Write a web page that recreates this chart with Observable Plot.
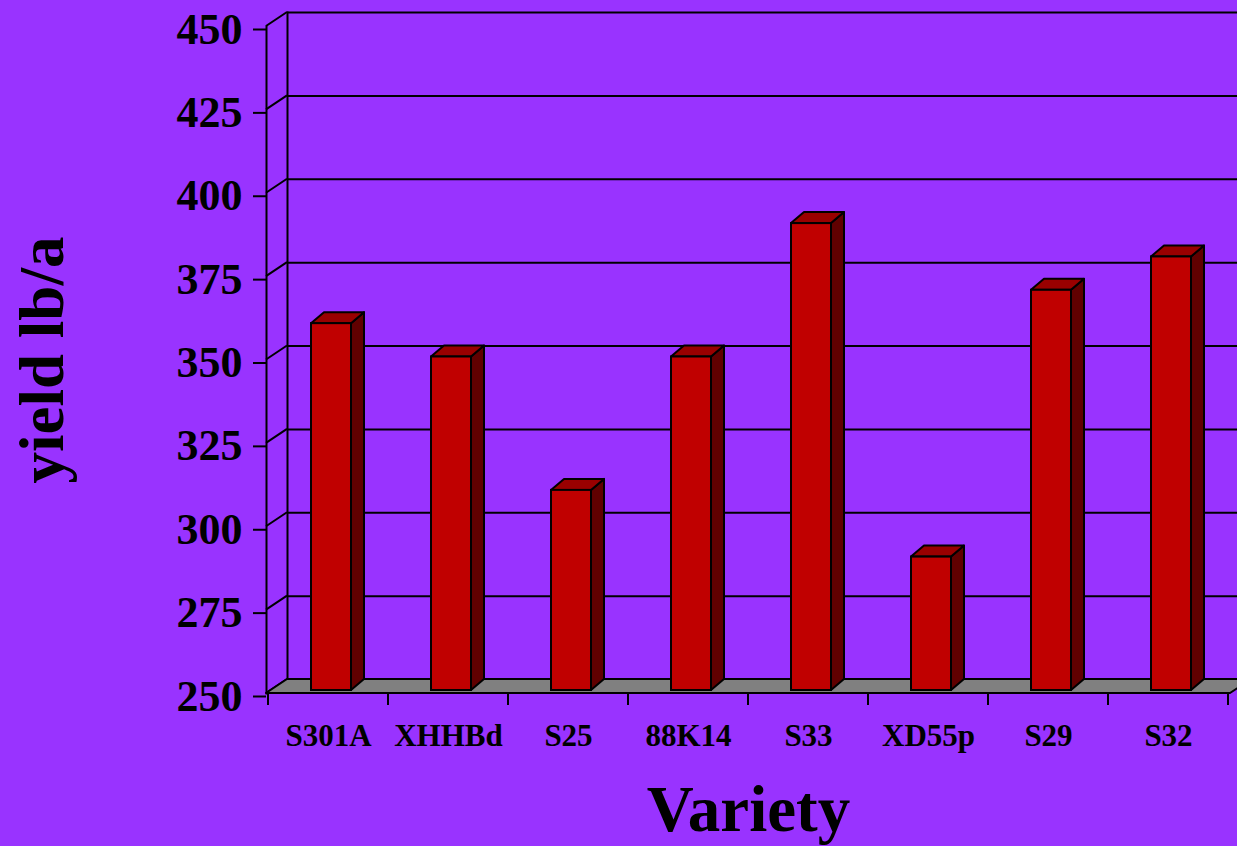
<!DOCTYPE html>
<html><head><meta charset="utf-8">
<script src="https://cdn.jsdelivr.net/npm/d3@7"></script>
<script src="https://cdn.jsdelivr.net/npm/@observablehq/plot@0.6"></script>
<style>
html,body{margin:0;padding:0;background:#9933FF;overflow:hidden;}
#chart svg{display:block;}
</style></head><body><div id="chart"></div>
<script>
// ---- data ----
const categories = ["S301A", "XHHBd", "S25", "88K14", "S33", "XD55p", "S29", "S32"];
const yields = [360, 350, 310, 350, 390, 290, 370, 380];
const yTicks = [250, 275, 300, 325, 350, 375, 400, 425, 450];
const gridValues = [250, 275, 300, 325, 350, 375, 400, 425, 450];
const yTitle = "yield lb/a";
const xTitle = "Variety";

const data = categories.map((variety, i) => ({variety, yield: yields[i]}));

// ---- style ----
const FONT = "'Liberation Serif', 'Times New Roman', serif";
const WALL_DX = 21, WALL_DY = -14;   // back-wall depth offset
const BAR_DX = 13, BAR_DY = -11;     // bar depth offset
const BAR_FRONT_DX = 3, BAR_FRONT_DY = -3;
const LINE = 2;

function svgEl(tag) { return document.createElementNS("http://www.w3.org/2000/svg", tag); }

// floor parallelogram at the base value
function floorRender(index, scales, values, dims) {
  const g = svgEl("g");
  const y0 = values.y[index[0]];
  const xl = dims.marginLeft, xr = dims.width - dims.marginRight;
  const p = svgEl("polygon");
  p.setAttribute("points", `${xl},${y0} ${xr},${y0} ${xr + WALL_DX},${y0 + WALL_DY} ${xl + WALL_DX},${y0 + WALL_DY}`);
  p.setAttribute("fill", "#808080");
  p.setAttribute("stroke", "black");
  p.setAttribute("stroke-width", LINE);
  p.setAttribute("stroke-linejoin", "round");
  g.appendChild(p);
  return g;
}

// diagonal connectors from front axis ticks to back wall
function connectorRender(index, scales, values, dims) {
  const g = svgEl("g");
  const xl = dims.marginLeft;
  for (const i of index) {
    const y = values.y[i];
    const l = svgEl("line");
    l.setAttribute("x1", xl); l.setAttribute("y1", y);
    l.setAttribute("x2", xl + WALL_DX); l.setAttribute("y2", y + WALL_DY);
    l.setAttribute("stroke", "black"); l.setAttribute("stroke-width", LINE);
    g.appendChild(l);
  }
  return g;
}

// x ticks at category boundaries
function xTickRender(index, scales, values, dims) {
  const g = svgEl("g");
  const x = scales.x;
  const bw = x.bandwidth();
  const bounds = categories.map(c => x(c));
  bounds.push(x(categories[categories.length - 1]) + bw);
  const y0 = scales.y(250);
  for (const b of bounds) {
    const l = svgEl("line");
    l.setAttribute("x1", b); l.setAttribute("x2", b);
    l.setAttribute("y1", y0); l.setAttribute("y2", y0 + 12);
    l.setAttribute("stroke", "black"); l.setAttribute("stroke-width", LINE);
    g.appendChild(l);
  }
  return g;
}

// 3D bars: front face from Plot, plus top and side faces
function barRender(index, scales, values, dims, ctx, next) {
  const g = next(index, scales, values, dims, ctx);
  const rects = Array.from(g.querySelectorAll("rect"));
  for (const r of rects) {
    const x = +r.getAttribute("x"), w = +r.getAttribute("width");
    const y = +r.getAttribute("y"), h = +r.getAttribute("height");
    const parent = r.parentNode;
    const side = svgEl("polygon");
    side.setAttribute("points", `${x + w},${y} ${x + w + BAR_DX},${y + BAR_DY} ${x + w + BAR_DX},${y + h + BAR_DY} ${x + w},${y + h}`);
    side.setAttribute("fill", "#600000");
    side.setAttribute("stroke", "black"); side.setAttribute("stroke-width", LINE);
    side.setAttribute("stroke-linejoin", "round");
    const top = svgEl("polygon");
    top.setAttribute("points", `${x},${y} ${x + BAR_DX},${y + BAR_DY} ${x + w + BAR_DX},${y + BAR_DY} ${x + w},${y}`);
    top.setAttribute("fill", "#990000");
    top.setAttribute("stroke", "black"); top.setAttribute("stroke-width", LINE);
    top.setAttribute("stroke-linejoin", "round");
    parent.appendChild(side);
    parent.appendChild(top);
    parent.appendChild(r); // keep front outline on top
  }
  return g;
}

const chart = Plot.plot({
  width: 1237,
  height: 846,
  marginLeft: 266,
  marginRight: 7,
  marginTop: 26,
  marginBottom: 153,
  style: {background: "#9933FF", color: "black", fontFamily: FONT, overflow: "visible"},
  x: {domain: categories, padding: 0},
  y: {domain: [250, 450]},
  marks: [
    // back wall gridlines
    Plot.ruleY(gridValues, {dx: WALL_DX, dy: WALL_DY, stroke: "black", strokeWidth: LINE}),
    // back wall left edge
    Plot.frame({anchor: "left", dx: WALL_DX, dy: WALL_DY, stroke: "black", strokeWidth: LINE}),
    // diagonal tick connectors
    Plot.ruleY(yTicks, {render: connectorRender}),
    // floor
    Plot.ruleY([250], {render: floorRender}),
    // front axis line
    Plot.frame({anchor: "left", stroke: "black", strokeWidth: LINE}),
    // x ticks at boundaries
    Plot.ruleY([250], {render: xTickRender}),
    // bars
    Plot.barY(data, {
      x: "variety", y1: 250, y2: "yield",
      fill: "#C00000", stroke: "black", strokeWidth: LINE,
      insetLeft: 40, insetRight: 40,
      dx: BAR_FRONT_DX, dy: BAR_FRONT_DY,
      render: barRender
    }),
    // axes
    Plot.axisY(yTicks, {
      tickSize: 13, tickPadding: 11, strokeWidth: LINE,
      fontSize: 44, fontWeight: "bold", fontFamily: FONT, dy: 3,
      label: null
    }),
    Plot.axisX({
      tickSize: 0, tickPadding: 30,
      fontSize: 31, fontWeight: "bold", fontFamily: FONT,
      label: null
    }),
    // axis titles
    Plot.text([yTitle], {frameAnchor: "left", dx: -224, rotate: -90, text: d => d,
      textAnchor: "middle", lineAnchor: "middle",
      fontSize: 63, fontWeight: "bold", fontFamily: FONT, fill: "black"}),
    Plot.text([xTitle], {frameAnchor: "bottom", dy: 117, text: d => d,
      textAnchor: "middle", lineAnchor: "middle",
      fontSize: 65, fontWeight: "bold", fontFamily: FONT, fill: "black"})
  ]
});
document.getElementById("chart").appendChild(chart);
</script>
</body></html>
